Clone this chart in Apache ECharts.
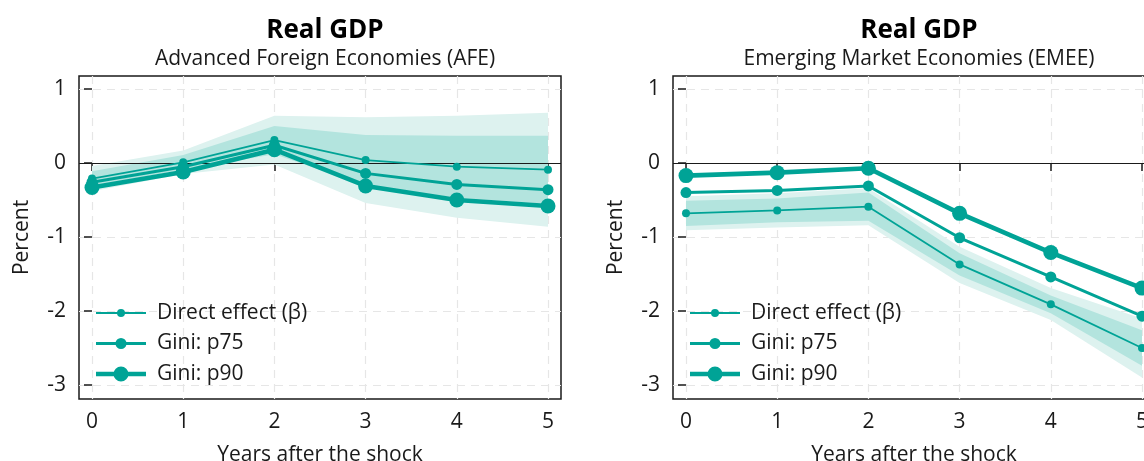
<!DOCTYPE html>
<html>
<head>
<meta charset="utf-8">
<script src="https://cdn.jsdelivr.net/npm/echarts@6/dist/echarts.min.js"></script>
<style>
html,body{margin:0;padding:0;background:#fff;}
#chart{width:1144px;height:461px;}
</style>
</head>
<body>
<div id="chart"></div>
<script>
// ---------- data ----------
const years = [0, 1, 2, 3, 4, 5];
const yTicks = [-3, -2, -1, 0, 1];
const seriesNames = ['Direct effect (β)', 'Gini: p75', 'Gini: p90'];
const panelTitles = ['Real GDP', 'Real GDP'];
const panelSubtitles = ['Advanced Foreign Economies (AFE)', 'Emerging Market Economies (EMEE)'];
const xAxisTitle = 'Years after the shock';
const yAxisTitle = 'Percent';

// AFE panel
const afeDirect  = [-0.21, 0.01, 0.31, 0.04, -0.05, -0.09];
const afeP75     = [-0.26, -0.05, 0.24, -0.14, -0.29, -0.36];
const afeP90     = [-0.33, -0.12, 0.18, -0.31, -0.50, -0.58];
const afeOuterLo = [-0.38, -0.15, -0.02, -0.54, -0.74, -0.86];
const afeOuterHi = [-0.04, 0.17, 0.64, 0.62, 0.64, 0.68];
const afeInnerLo = [-0.31, -0.09, 0.12, -0.30, -0.47, -0.55];
const afeInnerHi = [-0.11, 0.11, 0.50, 0.38, 0.37, 0.37];

// EMEE panel
const emeDirect  = [-0.68, -0.64, -0.59, -1.37, -1.91, -2.50];
const emeP75     = [-0.40, -0.37, -0.31, -1.01, -1.54, -2.07];
const emeP90     = [-0.17, -0.13, -0.07, -0.68, -1.21, -1.69];
const emeOuterLo = [-0.91, -0.87, -0.84, -1.62, -2.12, -2.90];
const emeOuterHi = [-0.45, -0.41, -0.34, -1.13, -1.69, -2.10];
const emeInnerLo = [-0.85, -0.80, -0.78, -1.52, -2.03, -2.74];
const emeInnerHi = [-0.51, -0.48, -0.40, -1.22, -1.79, -2.26];

// ---------- styling ----------
const FONT = '"Open Sans", "Noto Sans", sans-serif';
const TEAL = '#00A396';
const BAND_OUT = '#DDF2EF';
const BAND_IN = '#B3E4DE';
const INK = '#1a1a1a';
const LINE_W = [1.8, 3, 4.6];
const SYM_SIZE = [8, 11, 15];
const LEG_W = 50, LEG_H = 19;

const panels = [
  {direct: afeDirect, p75: afeP75, p90: afeP90, oLo: afeOuterLo, oHi: afeOuterHi, iLo: afeInnerLo, iHi: afeInnerHi, left: 79},
  {direct: emeDirect, p75: emeP75, p90: emeP90, oLo: emeOuterLo, oHi: emeOuterHi, iLo: emeInnerLo, iHi: emeInnerHi, left: 673}
];
const GRID_W = 482, GRID_TOP = 76, GRID_H = 323;

const pairs = arr => years.map((x, i) => [x, arr[i]]);

// legend icon: horizontal line + circle marker, in a LEG_W x LEG_H box
const legendIcon = (lw, d) => {
  const cy = LEG_H / 2, cx = LEG_W / 2, r = d / 2;
  const a = cy - lw / 2, b = cy + lw / 2;
  return 'path://M0 0M' + LEG_W + ' ' + LEG_H +
    'M0 ' + a + 'L' + LEG_W + ' ' + a + 'L' + LEG_W + ' ' + b + 'L0 ' + b + 'Z' +
    'M' + (cx - r) + ' ' + cy + 'A' + r + ' ' + r + ' 0 1 1 ' + (cx + r) + ' ' + cy +
    'A' + r + ' ' + r + ' 0 1 1 ' + (cx - r) + ' ' + cy + 'Z';
};

const bandSeries = (k, lo, hi, color, z) => ({
  type: 'custom', xAxisIndex: k, yAxisIndex: k, silent: true, z: z,
  data: years.map((x, i) => [x, lo[i], hi[i]]),
  encode: {x: 0, y: [1, 2]},
  renderItem: (params, api) => {
    if (params.dataIndexInside !== 0) return;
    const n = params.dataInsideLength;
    const pts = [];
    for (let i = 0; i < n; i++) pts.push(api.coord([api.value(0, i), api.value(2, i)]));
    for (let i = n - 1; i >= 0; i--) pts.push(api.coord([api.value(0, i), api.value(1, i)]));
    return {type: 'polygon', shape: {points: pts}, style: {fill: color}, silent: true};
  }
});

const grids = [], xAxes = [], yAxes = [], series = [], titles = [], legends = [];

panels.forEach((p, k) => {
  grids.push({left: p.left, top: GRID_TOP, width: GRID_W, height: GRID_H, show: true,
    outerBoundsMode: 'none', containLabel: false,
    borderColor: INK, borderWidth: 1.5, backgroundColor: 'rgba(0,0,0,0)'});
  xAxes.push({
    type: 'value', gridIndex: k, min: -0.1425, max: 5.1425,
    axisLine: {show: false},
    axisTick: {show: true, length: 8, customValues: years, lineStyle: {color: INK, width: 1.5}},
    axisLabel: {customValues: years, margin: 13, fontSize: 21, color: INK, fontFamily: FONT},
    splitLine: {show: true, lineStyle: {type: [8, 6], color: '#e6e6e6', width: 1.2}},
    name: xAxisTitle, nameLocation: 'middle', nameGap: 46,
    nameTextStyle: {fontSize: 21, color: INK, fontFamily: FONT}
  });
  yAxes.push({
    type: 'value', gridIndex: k, min: -3.189, max: 1.176,
    axisLine: {show: false},
    axisTick: {show: true, length: 8, customValues: yTicks, lineStyle: {color: INK, width: 1.5}},
    axisLabel: {customValues: yTicks, margin: 13, fontSize: 21, color: INK, fontFamily: FONT,
      padding: [3, 0, 0, 0]},
    splitLine: {show: true, lineStyle: {type: [8, 6], color: '#e6e6e6', width: 1.2}},
    name: yAxisTitle, nameLocation: 'middle', nameGap: 46,
    nameTextStyle: {fontSize: 21, color: INK, fontFamily: FONT}
  });
  const cx = p.left + GRID_W / 2;
  titles.push({
    text: panelTitles[k], subtext: panelSubtitles[k],
    left: cx, top: 13, textAlign: 'center', itemGap: 5,
    textStyle: {fontSize: 26, fontWeight: 'bold', color: '#000', fontFamily: FONT},
    subtextStyle: {fontSize: 21, color: INK, fontFamily: FONT}
  });
  legends.push({
    data: seriesNames.map((nm, j) => ({
      name: nm, icon: legendIcon(LINE_W[j], SYM_SIZE[j]),
      itemStyle: {color: TEAL}
    })),
    orient: 'vertical', left: p.left + 12, top: 297,
    itemWidth: LEG_W, itemHeight: LEG_H, itemGap: 8.5,
    textStyle: {fontSize: 21, lineHeight: 22, color: INK, fontFamily: FONT, padding: [0, 0, 0, 6]},
    selectedMode: false
  });
  series.push(bandSeries(k, p.oLo, p.oHi, BAND_OUT, 1));
  series.push(bandSeries(k, p.iLo, p.iHi, BAND_IN, 2));
  const lineSeries = (j, arr, withZero) => {
    const s = {
      type: 'line', name: seriesNames[j], xAxisIndex: k, yAxisIndex: k, data: pairs(arr),
      symbol: 'circle', symbolSize: SYM_SIZE[j], showSymbol: true,
      lineStyle: {color: TEAL, width: LINE_W[j]}, itemStyle: {color: TEAL}, z: 5 + j, silent: true
    };
    if (withZero) {
      s.markLine = {silent: true, symbol: 'none', label: {show: false},
        lineStyle: {color: INK, width: 1.2, type: 'solid'}, data: [{yAxis: 0}]};
    }
    return s;
  };
  series.push(lineSeries(0, p.direct, true));
  series.push(lineSeries(1, p.p75, false));
  series.push(lineSeries(2, p.p90, false));
});

const chart = echarts.init(document.getElementById('chart'), null, {renderer: 'canvas'});
chart.setOption({
  animation: false,
  backgroundColor: '#fff',
  title: titles,
  legend: legends,
  grid: grids,
  xAxis: xAxes,
  yAxis: yAxes,
  series: series
});
</script>
</body>
</html>
